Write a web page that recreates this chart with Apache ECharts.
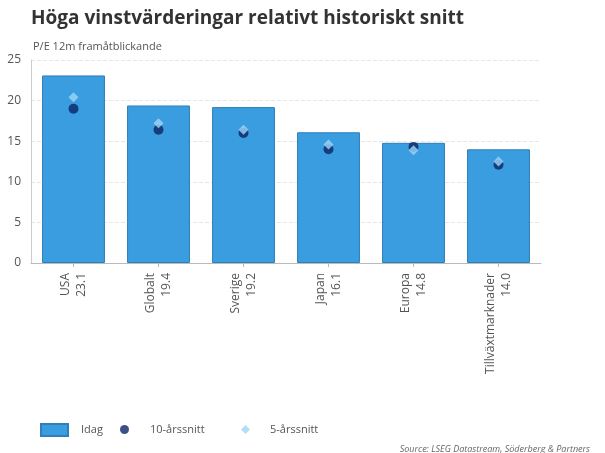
<!DOCTYPE html>
<html><head><meta charset="utf-8">
<script src="https://cdn.jsdelivr.net/npm/echarts@6/dist/echarts.min.js"></script>
<style>html,body{margin:0;padding:0;background:#fff}#c{width:605px;height:453px}</style>
</head><body><div id="c"></div>
<script>
const categories = ['USA','Globalt','Sverige','Japan','Europa','Tillväxtmarknader'];
const idag = [23.1, 19.4, 19.2, 16.1, 14.8, 14.0];
const snitt10 = [19.0, 16.4, 16.0, 14.0, 14.3, 12.1];
const snitt5 = [20.4, 17.2, 16.4, 14.6, 13.9, 12.5];
const yTicks = [0, 5, 10, 15, 20, 25];

const font = 'Open Sans, Noto Sans, sans-serif';
const legText = { fontSize: 11, color: '#555', fontFamily: font };
const chart = echarts.init(document.getElementById('c'));
chart.setOption({
  animation: false,
  textStyle: { fontFamily: font },
  title: [
    { text: 'Höga vinstvärderingar relativt historiskt snitt', left: 26, top: 4,
      textStyle: { fontSize: 19, fontWeight: 'bold', color: '#333', fontFamily: font } },
    { text: 'P/E 12m framåtblickande', left: 28, top: 36,
      textStyle: { fontSize: 11, fontWeight: 'normal', color: '#555', fontFamily: font } },
    { text: 'Source: LSEG Datastream, Söderberg & Partners', right: 10, top: 440,
      textStyle: { fontSize: 9, fontStyle: 'italic', fontWeight: 'normal', color: '#666', fontFamily: font } }
  ],
  legend: [
    { left: 35, top: 418, itemWidth: 27, itemHeight: 12, itemGap: 10,
      textStyle: Object.assign({ padding: [0, 0, 0, 8] }, legText),
      data: [{ name: 'Idag', icon: 'rect' }] },
    { left: 115, top: 419, itemWidth: 9, itemHeight: 9,
      textStyle: Object.assign({ padding: [0, 0, 0, 16] }, legText),
      data: [{ name: '10-årssnitt', icon: 'circle' }] },
    { left: 236, top: 419, itemWidth: 9, itemHeight: 9,
      textStyle: Object.assign({ padding: [0, 0, 0, 15] }, legText),
      data: [{ name: '5-årssnitt', icon: 'diamond' }] }
  ],
  grid: { left: 31, right: 64, top: 60, bottom: 190, containLabel: false },
  xAxis: {
    type: 'category', data: categories,
    axisLine: { lineStyle: { color: '#bbb' } },
    axisTick: { show: true, alignWithLabel: true, length: 4, lineStyle: { color: '#bbb' } },
    axisLabel: {
      rotate: 90, margin: 10, fontSize: 12, color: '#555', lineHeight: 16,
      formatter: (v, i) => v + '\n' + idag[i].toFixed(1)
    }
  },
  yAxis: {
    type: 'value', min: 0, max: 25, interval: 5,
    axisLine: { show: true, lineStyle: { color: '#ccc' } },
    axisTick: { show: false },
    axisLabel: { fontSize: 12, color: '#555', margin: 10,
      formatter: v => yTicks.includes(v) ? String(v) : '' },
    splitLine: { lineStyle: { color: '#e6e6e6', type: 'dashed' } }
  },
  series: [
    { name: 'Idag', type: 'bar', data: idag, barWidth: '74%',
      itemStyle: { color: '#3a9de0', borderColor: '#2f7fb8', borderWidth: 1 } },
    { name: '10-årssnitt', type: 'scatter', data: snitt10, symbol: 'circle', symbolSize: 10,
      itemStyle: { color: '#0d2467' }, z: 3 },
    { name: '5-årssnitt', type: 'scatter', data: snitt5, symbol: 'diamond', symbolSize: 10,
      itemStyle: { color: '#9fd6f5' }, z: 4 }
  ]
});
</script></body></html>
